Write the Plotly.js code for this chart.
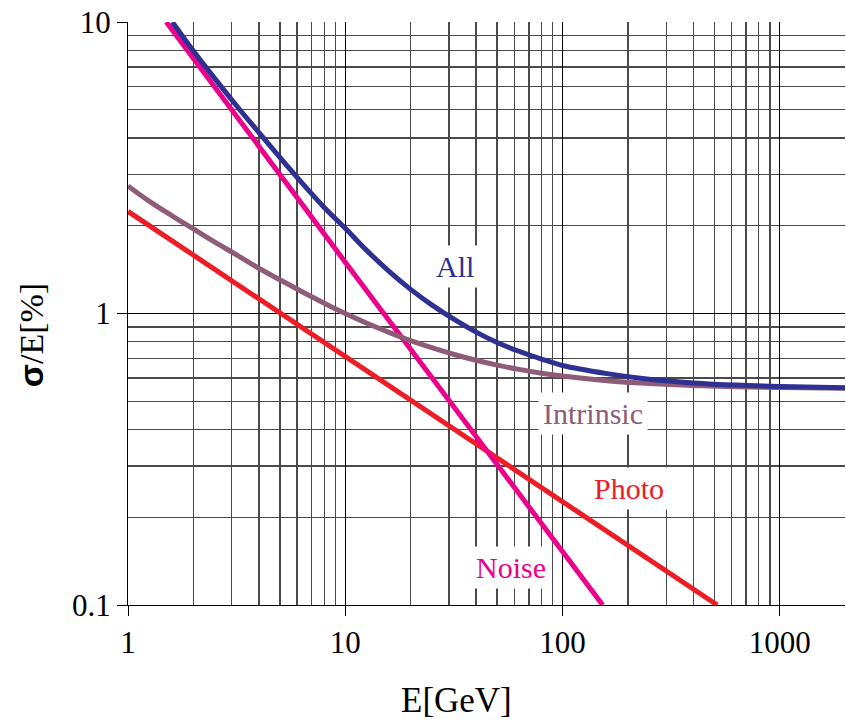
<!DOCTYPE html>
<html>
<head>
<meta charset="utf-8">
<script src="https://cdn.plot.ly/plotly-3.0.1.min.js"></script>
<style>html,body{margin:0;padding:0;background:#fff;}#chart{width:846px;height:723px;}</style>
</head>
<body>
<div id="chart"></div>
<script>
// Values (E in GeV, sigma/E in %)
const allE = [1.6, 2, 2.5, 3.2, 4, 5, 6.3, 8, 10, 12.5, 16, 20, 25, 32, 40, 50, 63, 80, 100, 160, 250, 400, 630, 1000, 2000];
const allV = [10.0, 7.95, 6.42, 5.1, 4.18, 3.43, 2.81, 2.31, 1.96, 1.65, 1.39, 1.21, 1.07, 0.95, 0.863, 0.795, 0.742, 0.698, 0.663, 0.622, 0.595, 0.578, 0.568, 0.562, 0.556];

const intrinsicE = [1, 1.25, 1.6, 2, 2.5, 3.2, 4, 5, 6.3, 8, 10, 12.5, 16, 20, 25, 32, 40, 50, 63, 80, 100, 160, 250, 400, 630, 1000, 2000];
const intrinsicV = [2.74, 2.43, 2.16, 1.95, 1.76, 1.58, 1.43, 1.305, 1.19, 1.085, 1.0, 0.928, 0.86, 0.807, 0.763, 0.722, 0.691, 0.665, 0.643, 0.624, 0.61, 0.588, 0.575, 0.566, 0.561, 0.5575, 0.554];

const photoE = [1, 10, 100, 515];
const photoV = [2.24, 0.71, 0.225, 0.1];

const noiseE = [1.5, 10, 153];
const noiseV = [10.0, 1.5, 0.1];

const xTickVals = [1, 10, 100, 1000];
const xTickText = ['1', '10', '100', '1000'];
const yTickVals = [0.1, 1, 10];
const yTickText = ['0.1', '1', '10'];

const colors = {All: '#2E3192', Intrinsic: '#8E5B78', Photo: '#EE1C25', Noise: '#EC008C'};

function minorVals(lo, hi) {
  const out = [];
  for (let d = lo; d < hi; d *= 10) for (let k = 2; k <= 9; k++) out.push(k * d);
  return out;
}

const serif = 'Liberation Serif';

const traces = [
  {x: photoE, y: photoV, name: 'Photo', mode: 'lines', line: {color: colors.Photo, width: 5}},
  {x: noiseE, y: noiseV, name: 'Noise', mode: 'lines', line: {color: colors.Noise, width: 5}},
  {x: intrinsicE, y: intrinsicV, name: 'Intrinsic', mode: 'lines', line: {color: colors.Intrinsic, width: 5, shape: 'spline', smoothing: 1}},
  {x: allE, y: allV, name: 'All', mode: 'lines', line: {color: colors.All, width: 5, shape: 'spline', smoothing: 1}}
];

function lab(text, x, y, color) {
  return {text: text, xref: 'paper', yref: 'paper', x: x, y: y, showarrow: false,
    font: {family: serif, size: 30, color: color}, bgcolor: '#ffffff', borderpad: 4,
    xanchor: 'center', yanchor: 'middle'};
}

const layout = {
  width: 846, height: 723,
  margin: {l: 128, r: 1, t: 22, b: 118},
  paper_bgcolor: '#ffffff', plot_bgcolor: '#ffffff',
  showlegend: false,
  font: {family: serif},
  xaxis: {
    type: 'log', range: [0, 3.3],
    tickmode: 'array', tickvals: xTickVals, ticktext: xTickText,
    ticks: 'outside', ticklen: 10, tickcolor: '#000', tickwidth: 1,
    showline: true, linecolor: '#000', linewidth: 1,
    showgrid: true, gridcolor: '#000', gridwidth: 1,
    zeroline: false,
    tickfont: {family: serif, size: 31, color: '#000'},
    minor: {tickmode: 'array', tickvals: minorVals(1, 2001), showgrid: true, gridcolor: '#4a4a4a', gridwidth: 1.4, ticks: ''}
  },
  yaxis: {
    type: 'log', range: [-1, 1],
    tickmode: 'array', tickvals: yTickVals, ticktext: yTickText,
    ticks: 'outside', ticklen: 10, tickcolor: '#000', tickwidth: 1,
    showline: true, linecolor: '#000', linewidth: 1,
    showgrid: true, gridcolor: '#000', gridwidth: 1,
    zeroline: false,
    tickfont: {family: serif, size: 31, color: '#000'},
    minor: {tickmode: 'array', tickvals: minorVals(0.1, 10), showgrid: true, gridcolor: '#4a4a4a', gridwidth: 1.4, ticks: ''}
  },
  annotations: [
    lab('All', 0.456, 0.580, colors.All),
    lab('Intrinsic', 0.6485, 0.329, colors.Intrinsic),
    lab('Photo', 0.699, 0.199, colors.Photo),
    lab('Noise', 0.534, 0.0635, colors.Noise),
    {text: 'E[GeV]', xref: 'paper', yref: 'paper', x: 0.4575, y: -0.164, showarrow: false,
      font: {family: serif, size: 35, color: '#000'}, xanchor: 'center', yanchor: 'middle'},
    {text: '<span style="font-family:Liberation Sans"><b>σ</b></span>/E[%]', xref: 'paper', yref: 'paper', x: -0.135, y: 0.463, showarrow: false,
      textangle: -90, font: {family: serif, size: 34, color: '#000'}, xanchor: 'center', yanchor: 'middle'}
  ]
};

Plotly.newPlot('chart', traces, layout, {staticPlot: true, displayModeBar: false});
</script>
</body>
</html>
